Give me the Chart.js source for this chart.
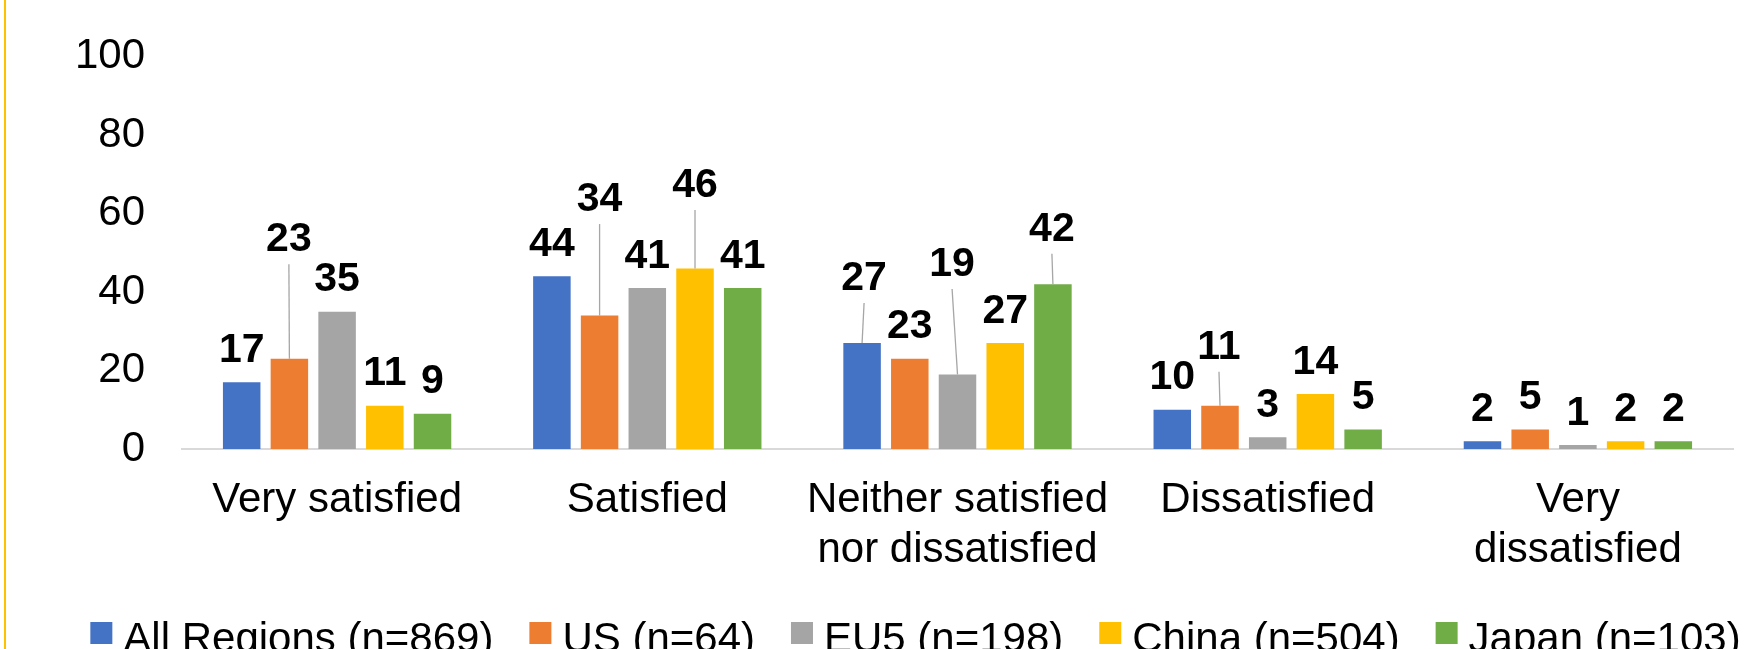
<!DOCTYPE html>
<html>
<head>
<meta charset="utf-8">
<script src="https://cdn.jsdelivr.net/npm/chart.js@4.4.1/dist/chart.umd.min.js"></script>
<style>
  html, body { margin: 0; padding: 0; background: #ffffff; overflow: hidden; }
  #wrap { position: relative; width: 1748px; height: 649px; }
  #frame { position: absolute; left: 4px; top: 0; width: 2px; height: 649px; background: #FFC000; }
  canvas { display: block; }
</style>
</head>
<body>
<div id="wrap">
  <canvas id="c" width="1748" height="649"></canvas>
  <div id="frame"></div>
</div>
<script>
// ---- data ----
const categories = [
  'Very satisfied',
  'Satisfied',
  ['Neither satisfied', 'nor dissatisfied'],
  'Dissatisfied',
  ['Very', 'dissatisfied']
];
const seriesNames = ['All Regions (n=869)', 'US (n=64)', 'EU5 (n=198)', 'China (n=504)', 'Japan (n=103)'];
const allRegions = [17, 44, 27, 10, 2];
const us         = [23, 34, 23, 11, 5];
const eu5        = [35, 41, 19, 3, 1];
const china      = [11, 46, 27, 14, 2];
const japan      = [9, 41, 42, 5, 2];
const yTicks     = [0, 20, 40, 60, 80, 100];

// ---- style ----
const seriesColors = ['#4472C4', '#ED7D31', '#A5A5A5', '#FFC000', '#70AD47'];
const FONT = '"Liberation Sans", Arial, Helvetica, sans-serif';
Chart.defaults.font.family = FONT;
Chart.defaults.color = '#000000';

// label displacement (pixels) for labels moved off their bars, with leader lines
const labelShifts = [
  { series: 1, category: 0, dx: -0.5, dy: -87 },
  { series: 1, category: 1, dx: 0,    dy: -84 },
  { series: 3, category: 1, dx: 0,    dy: -51 },
  { series: 0, category: 2, dx: 2,    dy: -32.5 },
  { series: 2, category: 2, dx: -5.4, dy: -78 },
  { series: 4, category: 2, dx: -1,   dy: -23 },
  { series: 1, category: 3, dx: -1,   dy: -26.5 }
];
const labelGap = 20.5;

const valueLabels = {
  id: 'valueLabels',
  afterDatasetsDraw(chart) {
    const ctx = chart.ctx;
    ctx.save();
    ctx.font = 'bold 41px ' + FONT;
    ctx.textAlign = 'center';
    ctx.textBaseline = 'alphabetic';
    chart.data.datasets.forEach((ds, di) => {
      const meta = chart.getDatasetMeta(di);
      meta.data.forEach((bar, ci) => {
        const s = labelShifts.find(v => v.series === di && v.category === ci);
        const lx = bar.x + (s ? s.dx : 0);
        const ly = bar.y - labelGap + (s ? s.dy : 0);
        if (s) {
          ctx.strokeStyle = '#A6A6A6';
          ctx.lineWidth = 1.3;
          ctx.beginPath();
          ctx.moveTo(lx, ly + 13);
          ctx.lineTo(bar.x, bar.y);
          ctx.stroke();
        }
        ctx.fillStyle = '#000000';
        ctx.fillText(String(ds.data[ci]), lx, ly);
      });
    });
    ctx.restore();
  }
};

const bottomLegend = {
  id: 'bottomLegend',
  afterDraw(chart) {
    const ctx = chart.ctx;
    ctx.save();
    ctx.font = '42px ' + FONT;
    ctx.textAlign = 'left';
    ctx.textBaseline = 'alphabetic';
    const box = 22, gap = 11, spacing = 36;
    const boxTop = 622, textBase = 651.8, centerX = 915.5;
    const items = chart.data.datasets.map(ds => ({
      text: ds.label, color: ds.backgroundColor, w: ctx.measureText(ds.label).width
    }));
    const total = items.reduce((a, it) => a + box + gap + it.w, 0) + spacing * (items.length - 1);
    let x = centerX - total / 2;
    items.forEach(it => {
      ctx.fillStyle = it.color;
      ctx.fillRect(x, boxTop, box, box);
      ctx.fillStyle = '#000000';
      ctx.fillText(it.text, x + box + gap, textBase);
      x += box + gap + it.w + spacing;
    });
    ctx.restore();
  }
};

const seriesData = [allRegions, us, eu5, china, japan];

new Chart(document.getElementById('c'), {
  type: 'bar',
  data: {
    labels: categories,
    datasets: seriesData.map((d, i) => ({
      label: seriesNames[i],
      data: d,
      backgroundColor: seriesColors[i],
      borderWidth: 0,
      categoryPercentage: 0.769,
      barPercentage: 0.786
    }))
  },
  options: {
    responsive: false,
    animation: false,
    devicePixelRatio: 1,
    layout: { padding: { top: 56.5, right: 15, bottom: 0, left: 0 } },
    plugins: {
      legend: { display: false },
      tooltip: { enabled: false },
      title: { display: false }
    },
    scales: {
      x: {
        grid: { display: false, drawTicks: false },
        border: { display: true, color: '#D9D9D9', width: 2 },
        ticks: { color: '#000000', font: { size: 42, lineHeight: 1.2 }, padding: 26, maxRotation: 0, autoSkip: false },
        afterFit(s) { s.height = 200; s.paddingLeft = 0; s.paddingRight = 0; }
      },
      y: {
        min: yTicks[0],
        max: yTicks[yTicks.length - 1],
        grid: { display: false, drawTicks: false },
        border: { display: false },
        ticks: { stepSize: yTicks[1] - yTicks[0], color: '#000000', font: { size: 42 }, padding: 37 },
        afterFit(s) { s.width = 182; s.paddingTop = 0; s.paddingBottom = 0; }
      }
    }
  },
  plugins: [valueLabels, bottomLegend]
});
</script>
</body>
</html>
